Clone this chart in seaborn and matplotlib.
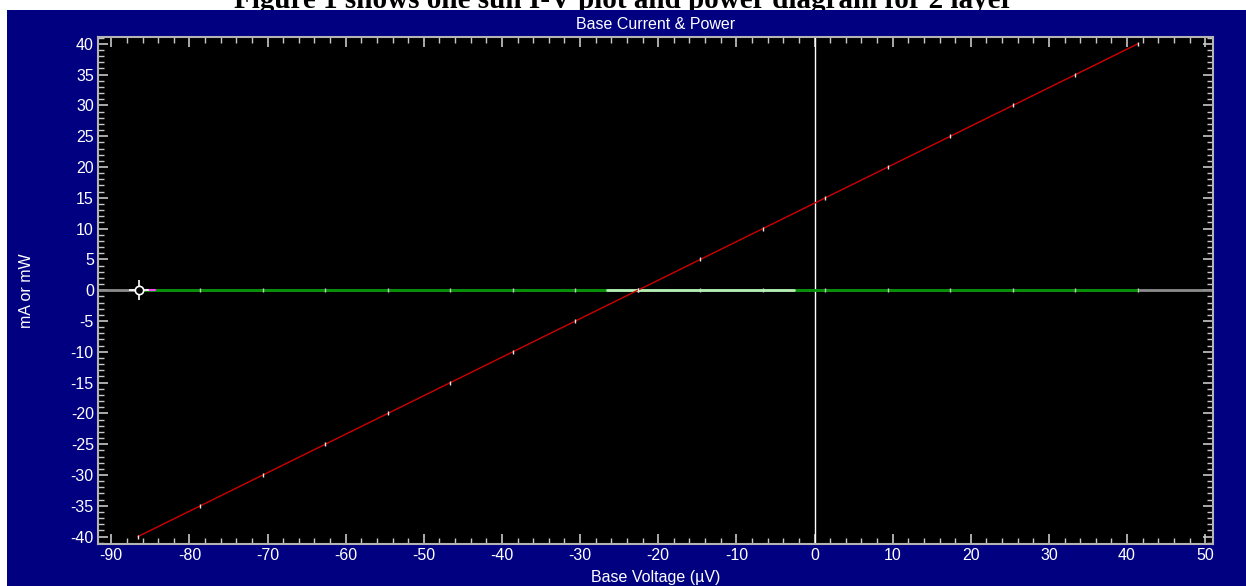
import matplotlib
matplotlib.use("Agg")
import matplotlib.pyplot as plt
import seaborn as sns
import pandas as pd
from matplotlib.ticker import MultipleLocator
from matplotlib.patches import Rectangle

# ---- data ----
voltage_uV = [-86.6, -78.6, -70.6, -62.6, -54.6, -46.6, -38.6, -30.6, -22.6,
              -14.6, -6.6, 1.4, 9.4, 17.4, 25.4, 33.4, 41.4]
current_mA = [-40, -35, -30, -25, -20, -15, -10, -5, 0,
              5, 10, 15, 20, 25, 30, 35, 40]
power_mW = [0.0, 0.0, 0.0, 0.0, 0.0, 0.0, 0.0, 0.0, 0.0,
            0.0, 0.0, 0.0, 0.0, 0.0, 0.0, 0.0, 0.0]
highlight_v = [-26.5, -2.6]
highlight_p = [0.0, 0.0]
cursor_v = [-86.4]
cursor_p = [0.0]

xticks = [-90, -80, -70, -60, -50, -40, -30, -20, -10, 0, 10, 20, 30, 40, 50]
yticks = [-40, -35, -30, -25, -20, -15, -10, -5, 0, 5, 10, 15, 20, 25, 30, 35, 40]

df = pd.DataFrame({"V": voltage_uV, "I": current_mA, "P": power_mW})
hl = pd.DataFrame({"V": highlight_v, "P": highlight_p})

sns.set_style("dark")
plt.rcParams["font.family"] = ["Liberation Sans", "DejaVu Sans"]
plt.rcParams["axes.unicode_minus"] = False

W, H = 1246, 586
fig = plt.figure(figsize=(W / 100, H / 100), dpi=100)
fig.patch.set_facecolor("white")

# navy panel
fig.patches.append(Rectangle((7 / W, 0), 1 - 7 / W, (H - 10) / H,
                             transform=fig.transFigure, facecolor="#000080",
                             edgecolor="none", zorder=-10))

# clipped document caption at top
fig.text(624 / W, 1 - 8 / H, "Figure 1 shows one sun I-V plot and power diagram for 2 layer",
         ha="center", va="baseline", fontsize=21, fontweight="bold",
         family=["Liberation Serif", "DejaVu Serif"], color="black", zorder=-20)

left, right, top, bottom = 98, 1213, 37, 544
ax = fig.add_axes([left / W, 1 - bottom / H, (right - left) / W, (bottom - top) / H])
ax.set_zorder(5)
ax.set_facecolor("black")

ax.axhline(0, color="#8c8c8c", lw=2, zorder=1)
ax.axvline(0, color="white", lw=1, zorder=2)

sns.lineplot(data=df, x="V", y="P", ax=ax, color="#009000", lw=2, zorder=3,
             marker="|", markersize=3, markeredgecolor="#c8c8c8", markeredgewidth=1)
sns.lineplot(data=hl, x="V", y="P", ax=ax, color="#b8ecb8", lw=2, zorder=4)
sns.lineplot(data=df, x="V", y="I", ax=ax, color="#d00000", lw=1, zorder=5,
             marker="|", markersize=3, markeredgecolor="#e8e8e8", markeredgewidth=1)

# cursor marker
ax.plot(cursor_v, cursor_p, marker="+", markersize=14, mew=1.2, color="white",
        ls="none", zorder=7)
ax.plot(cursor_v, cursor_p, marker="o", markersize=6, mew=1.2, mfc="black",
        mec="white", ls="none", zorder=8)
ax.plot([cursor_v[0] + 0.9, cursor_v[0] + 2.0], [0, 0], color="#ff40ff", lw=1.5, zorder=6)

ax.set_xlim(-91.7, 51.0)
ax.set_ylim(-41.2, 41.1)
ax.set_xticks(xticks)
ax.set_yticks(yticks)
ax.xaxis.set_minor_locator(MultipleLocator(2))
ax.yaxis.set_minor_locator(MultipleLocator(1))
ax.grid(False)

for s in ax.spines.values():
    s.set_visible(True)
    s.set_color("#b4b4b4")
    s.set_linewidth(1.5)

ax.tick_params(which="both", direction="in", top=True, right=True,
               bottom=True, left=True, color="#c8c8c8", labelcolor="white",
               labelsize=11.5)
ax.tick_params(which="major", length=7, width=1.2, pad=3)
ax.tick_params(which="minor", length=4, width=1)

ax.set_xlabel("Base Voltage (µV)", color="white", fontsize=11.5, labelpad=5)
ax.set_ylabel("mA or mW", color="white", fontsize=11.5, labelpad=26)
ax.set_title("Base Current & Power", color="white", fontsize=11.5, pad=6)

fig.savefig("out.png", dpi=100, facecolor=fig.get_facecolor())
